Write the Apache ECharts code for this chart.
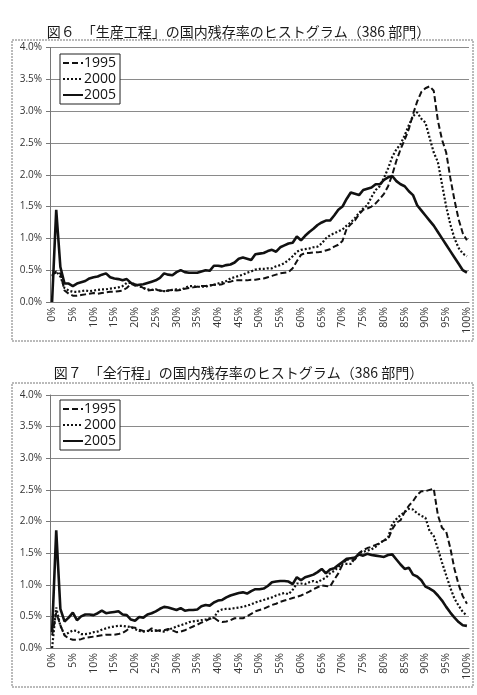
<!DOCTYPE html>
<html>
<head>
<meta charset="utf-8">
<script src="https://cdn.jsdelivr.net/npm/echarts@6/dist/echarts.min.js"></script>
<style>
  html, body { margin: 0; padding: 0; background: #fff; }
  #chart { width: 477px; height: 695px; }
</style>
</head>
<body>
<div id="chart"></div>
<script>
// categories: domestic retention rate 0%..100%
const categorias = [
  '0%','1%','2%','3%','4%','5%','6%','7%','8%','9%','10%','11%','12%','13%','14%','15%','16%','17%','18%','19%',
  '20%','21%','22%','23%','24%','25%','26%','27%','28%','29%','30%','31%','32%','33%','34%','35%','36%','37%','38%','39%',
  '40%','41%','42%','43%','44%','45%','46%','47%','48%','49%','50%','51%','52%','53%','54%','55%','56%','57%','58%','59%',
  '60%','61%','62%','63%','64%','65%','66%','67%','68%','69%','70%','71%','72%','73%','74%','75%','76%','77%','78%','79%',
  '80%','81%','82%','83%','84%','85%','86%','87%','88%','89%','90%','91%','92%','93%','94%','95%','96%','97%','98%','99%','100%'
];
const y_ticks = ['0.0%','0.5%','1.0%','1.5%','2.0%','2.5%','3.0%','3.5%','4.0%'];
const nombres = ['1995', '2000', '2005'];

const titulo_fig6 = '図６　「生産工程」の国内残存率のヒストグラム（386 部門）';
const titulo_fig7 = '図７　「全行程」の国内残存率のヒストグラム（386 部門）';

/* Fig 6 (values in %) */
const fig6_1995 = [
  0.42,0.48,0.45,0.18,0.13,0.10,0.10,0.11,0.12,0.13, 0.14,0.13,0.14,0.15,0.16,0.16,0.17,0.18,0.22,0.28,
  0.28,0.26,0.22,0.18,0.19,0.19,0.18,0.17,0.18,0.19, 0.18,0.19,0.21,0.22,0.23,0.24,0.25,0.25,0.26,0.27,
  0.27,0.28,0.31,0.32,0.34,0.34,0.34,0.34,0.35,0.35, 0.36,0.37,0.39,0.41,0.43,0.45,0.46,0.47,0.53,0.64,
  0.74,0.77,0.77,0.78,0.78,0.79,0.81,0.83,0.87,0.90, 0.96,1.15,1.22,1.28,1.38,1.45,1.47,1.50,1.55,1.62,
  1.70,1.82,2.00,2.22,2.40,2.55,2.72,2.95,3.15,3.30, 3.36,3.39,3.32,2.85,2.55,2.35,1.95,1.60,1.30,1.08, 0.97
];
const fig6_2000 = [
  0.40,0.48,0.40,0.22,0.18,0.16,0.16,0.17,0.18,0.17, 0.18,0.19,0.20,0.20,0.21,0.22,0.23,0.25,0.30,0.30,
  0.28,0.25,0.22,0.20,0.19,0.20,0.18,0.17,0.18,0.19, 0.20,0.19,0.22,0.25,0.25,0.24,0.24,0.24,0.26,0.27,
  0.29,0.31,0.33,0.37,0.39,0.41,0.43,0.46,0.48,0.51, 0.52,0.52,0.53,0.53,0.56,0.58,0.61,0.66,0.72,0.79,
  0.82,0.83,0.84,0.86,0.87,0.92,1.00,1.05,1.08,1.11, 1.14,1.20,1.25,1.32,1.40,1.47,1.52,1.65,1.76,1.82,
  1.95,2.10,2.28,2.40,2.48,2.62,2.78,2.92,2.98,2.88, 2.82,2.58,2.35,2.20,1.85,1.50,1.22,1.00,0.85,0.76, 0.72
];
const fig6_2005 = [
  0.00,1.45,0.55,0.29,0.29,0.25,0.29,0.31,0.33,0.37, 0.39,0.40,0.43,0.45,0.39,0.37,0.36,0.34,0.36,0.30,
  0.26,0.27,0.28,0.30,0.32,0.34,0.38,0.45,0.43,0.42, 0.47,0.50,0.47,0.46,0.46,0.46,0.48,0.50,0.49,0.57,
  0.57,0.56,0.58,0.59,0.62,0.68,0.70,0.68,0.66,0.75, 0.76,0.77,0.80,0.82,0.79,0.86,0.89,0.92,0.93,1.03,
  0.97,1.04,1.10,1.15,1.21,1.25,1.28,1.28,1.36,1.45, 1.50,1.62,1.72,1.70,1.68,1.76,1.78,1.80,1.85,1.85,
  1.92,1.96,1.98,1.90,1.85,1.82,1.74,1.68,1.52,1.44, 1.36,1.28,1.20,1.10,1.00,0.90,0.80,0.70,0.60,0.50, 0.46
];

/* Fig 7 (values in %) */
const fig7_1995 = [
  0.20,0.56,0.36,0.20,0.15,0.13,0.13,0.14,0.16,0.17, 0.18,0.19,0.20,0.21,0.21,0.21,0.22,0.24,0.28,0.33,
  0.32,0.29,0.27,0.26,0.31,0.27,0.28,0.28,0.30,0.28, 0.25,0.26,0.28,0.31,0.34,0.37,0.40,0.43,0.46,0.48,
  0.43,0.41,0.42,0.44,0.47,0.47,0.47,0.50,0.54,0.58, 0.60,0.62,0.65,0.68,0.70,0.73,0.75,0.77,0.79,0.81,
  0.83,0.86,0.89,0.93,0.96,0.99,0.98,0.97,1.08,1.18, 1.32,1.40,1.38,1.40,1.50,1.55,1.58,1.60,1.63,1.66,
  1.70,1.72,1.88,1.98,2.02,2.15,2.25,2.32,2.42,2.48, 2.48,2.50,2.52,2.10,1.90,1.84,1.58,1.25,1.00,0.82, 0.70
];
const fig7_2000 = [
  0.00,0.64,0.35,0.21,0.24,0.28,0.27,0.22,0.22,0.23, 0.25,0.26,0.29,0.31,0.33,0.34,0.35,0.35,0.34,0.33,
  0.30,0.27,0.26,0.27,0.27,0.28,0.27,0.26,0.29,0.31, 0.34,0.36,0.38,0.41,0.42,0.43,0.44,0.45,0.47,0.48,
  0.58,0.61,0.62,0.62,0.63,0.64,0.65,0.67,0.69,0.72, 0.74,0.76,0.78,0.80,0.83,0.85,0.87,0.85,0.92,1.02,
  1.02,1.01,1.04,1.06,1.04,1.08,1.11,1.18,1.22,1.28, 1.33,1.33,1.33,1.42,1.50,1.52,1.54,1.56,1.60,1.66,
  1.70,1.75,1.96,2.04,2.10,2.15,2.20,2.19,2.13,2.09, 2.06,1.85,1.77,1.57,1.35,1.15,0.95,0.78,0.67,0.57, 0.51
];
const fig7_2005 = [
  0.25,1.86,0.62,0.42,0.48,0.56,0.44,0.50,0.53,0.53, 0.52,0.55,0.59,0.55,0.56,0.57,0.58,0.53,0.52,0.45,
  0.43,0.49,0.48,0.53,0.55,0.58,0.62,0.65,0.64,0.62, 0.60,0.63,0.59,0.60,0.60,0.61,0.66,0.68,0.67,0.72,
  0.75,0.76,0.80,0.83,0.85,0.87,0.88,0.86,0.90,0.93, 0.93,0.94,0.98,1.04,1.05,1.06,1.06,1.05,1.01,1.12,
  1.07,1.12,1.14,1.16,1.20,1.25,1.18,1.24,1.26,1.31, 1.36,1.41,1.42,1.43,1.48,1.46,1.49,1.47,1.46,1.45,
  1.44,1.47,1.48,1.40,1.32,1.25,1.27,1.16,1.13,1.07, 0.97,0.94,0.90,0.83,0.75,0.65,0.56,0.48,0.41,0.36, 0.35
];

const fuente_num = 'Open Sans';
const fuente_jp = '"Noto Sans CJK JP"';

// one grid per figure
const paneles = [
  { top: 47.5, height: 254.5, titleTop: 20, box: [12, 40, 461, 301], legendTop: 54, datos: [fig6_1995, fig6_2000, fig6_2005], titulo: titulo_fig6 },
  { top: 395, height: 253, titleTop: 361, box: [12, 383, 461, 304], legendTop: 400, datos: [fig7_1995, fig7_2000, fig7_2005], titulo: titulo_fig7 }
];

const estilos = [
  { type: [6, 3], width: 2 },
  { type: [2, 2], width: 2.2 },
  { type: 'solid', width: 2.6 }
];

var myChart = echarts.init(document.getElementById('chart'), null, { renderer: 'canvas' });

var option = {
    animation: false,
    backgroundColor: '#fff',
    title: [],
    legend: [],
    grid: [],
    xAxis: [],
    yAxis: [],
    series: [],
    graphic: []
};

paneles.forEach(function (p, k) {
    option.title.push({
        text: p.titulo,
        left: 'center',
        top: p.titleTop,
        textStyle: { fontFamily: fuente_jp, fontSize: 14, fontWeight: 'normal', color: '#1a1a1a' }
    });
    option.graphic.push({
        type: 'rect',
        shape: { x: p.box[0], y: p.box[1], width: p.box[2], height: p.box[3] },
        style: { fill: 'none', stroke: '#777', lineWidth: 1, lineDash: [2, 1] },
        silent: true
    });
    option.grid.push({ left: 50, right: 8, top: p.top, height: p.height });
    option.xAxis.push({
        type: 'category',
        gridIndex: k,
        data: categorias,
        boundaryGap: true,
        axisLine: { lineStyle: { color: '#777' } },
        axisTick: { interval: 4, alignWithLabel: true, length: 4, lineStyle: { color: '#777' } },
        axisLabel: {
            interval: 4, rotate: 90, fontSize: 10.5, color: '#333',
            fontFamily: fuente_num, margin: 5
        },
        splitLine: { show: false }
    });
    option.yAxis.push({
        type: 'value',
        gridIndex: k,
        min: 0, max: 4, interval: 0.5,
        axisLine: { show: true, lineStyle: { color: '#777' } },
        axisTick: { show: true, length: 4, lineStyle: { color: '#777' } },
        axisLabel: {
            fontSize: 10, color: '#333', fontFamily: fuente_num, margin: 8,
            formatter: function (v) { return y_ticks[Math.round(v / 0.5)]; }
        },
        splitLine: { lineStyle: { color: '#8a8a8a', width: 1 } }
    });
    nombres.forEach(function (n, j) {
        option.series.push({
            name: n,
            type: 'line',
            xAxisIndex: k,
            yAxisIndex: k,
            data: p.datos[j],
            symbol: 'none',
            legendIcon: 'none',
            smooth: false,
            lineStyle: { color: '#111', width: estilos[j].width, type: estilos[j].type },
            itemStyle: { color: '#111' },
            z: 3 + j
        });
    });
    option.legend.push({
        data: nombres,
        orient: 'vertical',
        left: 60,
        top: p.legendTop,
        itemWidth: 20,
        itemHeight: 13,
        itemGap: 2,
        padding: [2, 4, 2, 2],
        borderColor: '#222',
        borderWidth: 1,
        backgroundColor: '#fff',
        selectedMode: false,
        itemStyle: { opacity: 0 },
        textStyle: { fontFamily: fuente_num, fontSize: 14, color: '#111', padding: [0, 0, 0, -4] }
    });
});

myChart.setOption(option);
</script>
</body>
</html>
